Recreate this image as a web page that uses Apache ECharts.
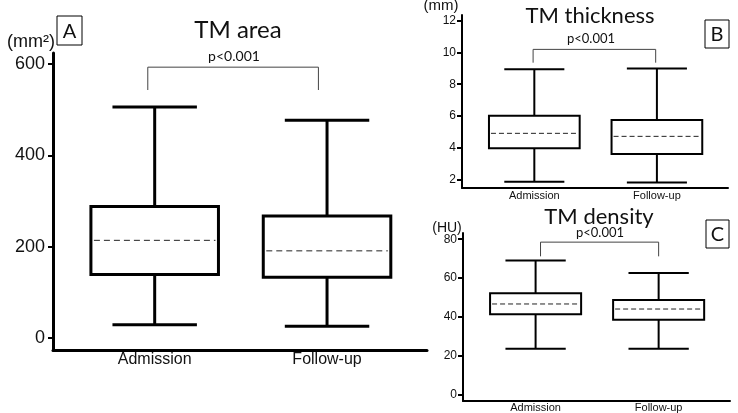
<!DOCTYPE html>
<html>
<head>
<meta charset="utf-8">
<script src="https://cdn.jsdelivr.net/npm/echarts@6/dist/echarts.min.js"></script>
<style>
  html, body { margin: 0; padding: 0; background: #fff; }
  #main { width: 738px; height: 413px; }
</style>
</head>
<body>
<div id="main"></div>
<script>
// categories on the x axis of every panel
const categories = ['Admission', 'Follow-up'];

// box values: [min, q1, median, q3, max] per category
const areaBoxes = [[29, 139, 214, 288, 506], [26, 133, 191, 267, 477]];
const thicknessBoxes = [[1.85, 3.96, 4.9, 6.01, 8.94], [1.79, 3.6, 4.71, 5.74, 9.0]];
const densityBoxes = [[23.7, 41.4, 46.7, 52.2, 69], [23.7, 38.6, 44.1, 48.7, 62.6]];

// y tick labels
const areaTicks = [0, 200, 400, 600];
const thicknessTicks = [2, 4, 6, 8, 10, 12];
const densityTicks = [0, 20, 40, 60, 80];

// significance brackets: [x, y] points in data units
const areaBracket = [[0.96, 543], [0.96, 593], [1.95, 593], [1.95, 543]];
const thicknessBracket = [[0.99, 9.36], [0.99, 10.2], [1.99, 10.2], [1.99, 9.36]];
const densityBracket = [[1.04, 71.2], [1.04, 78.5], [2.0, 78.5], [2.0, 71.2]];

const BOX_W = 0.74;
const CAP_W = 0.49;
const LABEL_FONT = 'Liberation Sans';
const TITLE_FONT = 'Lato';

function makeRender(lw, dash) {
  return function (params, api) {
    const x = api.value(0);
    const pt = i => api.coord([x, api.value(i)]);
    const halfBox = api.size([BOX_W, 0])[0] / 2;
    const halfCap = api.size([CAP_W, 0])[0] / 2;
    const [cx, yMin] = pt(1);
    const yQ1 = pt(2)[1], yMed = pt(3)[1], yQ3 = pt(4)[1], yMax = pt(5)[1];
    const stroke = { stroke: '#000', lineWidth: lw, fill: null };
    return {
      type: 'group',
      children: [
        { type: 'line', shape: { x1: cx, y1: yMax, x2: cx, y2: yQ3 }, style: stroke },
        { type: 'line', shape: { x1: cx, y1: yQ1, x2: cx, y2: yMin }, style: stroke },
        { type: 'line', shape: { x1: cx - halfCap, y1: yMax, x2: cx + halfCap, y2: yMax }, style: stroke },
        { type: 'line', shape: { x1: cx - halfCap, y1: yMin, x2: cx + halfCap, y2: yMin }, style: stroke },
        { type: 'rect', shape: { x: cx - halfBox, y: yQ3, width: halfBox * 2, height: yQ1 - yQ3 }, style: { stroke: '#000', lineWidth: lw, fill: '#fff' } },
        { type: 'line', shape: { x1: cx - halfBox + lw, y1: yMed, x2: cx + halfBox - lw, y2: yMed }, style: { stroke: '#222', lineWidth: 1, lineDash: dash } }
      ]
    };
  };
}

function boxData(rows) {
  return rows.map((r, i) => [i + 1].concat(r));
}

function xAxisFor(idx, lw, fontSize, margin) {
  return {
    type: 'value',
    gridIndex: idx,
    min: 0.41,
    max: 2.58,
    axisLine: { show: true, onZero: false, lineStyle: { color: '#000', width: lw } },
    axisTick: { show: false },
    splitLine: { show: false },
    axisLabel: {
      customValues: [1, 2],
      formatter: v => categories[Math.round(v) - 1],
      color: '#111',
      fontFamily: LABEL_FONT,
      fontSize: fontSize,
      margin: margin
    }
  };
}

function yAxisFor(idx, min, max, ticks, lw, fontSize, margin) {
  return {
    type: 'value',
    gridIndex: idx,
    min: min,
    max: max,
    axisLine: { show: true, onZero: false, lineStyle: { color: '#000', width: lw } },
    axisTick: { show: true, customValues: ticks, length: 5, lineStyle: { color: '#000', width: 2 } },
    splitLine: { show: false },
    axisLabel: {
      customValues: ticks,
      color: '#111',
      fontFamily: LABEL_FONT,
      fontSize: fontSize,
      margin: margin
    }
  };
}

function bracketSeries(idx, points) {
  return {
    type: 'line',
    xAxisIndex: idx,
    yAxisIndex: idx,
    data: points,
    symbol: 'none',
    silent: true,
    lineStyle: { color: '#444', width: 1 }
  };
}

function label(text, x, y, size, font) {
  return {
    type: 'text',
    x: x,
    y: y,
    style: {
      text: text,
      fill: '#111',
      font: size + 'px "' + (font || TITLE_FONT) + '"',
      align: 'center',
      verticalAlign: 'middle'
    }
  };
}

function letterBox(text, x, y, w, h, size) {
  return {
    type: 'group',
    children: [
      { type: 'rect', shape: { x: x, y: y, width: w, height: h }, style: { fill: '#fff', stroke: '#000', lineWidth: 1 } },
      label(text, x + w / 2, y + h / 2 + 1, size)
    ]
  };
}

const chart = echarts.init(document.getElementById('main'), null, { renderer: 'canvas' });

const option = {
  backgroundColor: '#fff',
  animation: false,
  grid: [
    { left: 53, top: 53, width: 374, height: 297 },
    { left: 462, top: 15, width: 266, height: 173 },
    { left: 463, top: 233, width: 267, height: 171 }
  ],
  xAxis: [
    xAxisFor(0, 3, 16, 2),
    xAxisFor(1, 2, 11, 2),
    xAxisFor(2, 2, 11, 1)
  ],
  yAxis: [
    yAxisFor(0, -26, 624, areaTicks, 3, 18, 8),
    yAxisFor(1, 1.45, 12.37, thicknessTicks, 2, 12, 6),
    yAxisFor(2, -3.2, 83.2, densityTicks, 2, 12, 6)
  ],
  series: [
    {
      type: 'custom', xAxisIndex: 0, yAxisIndex: 0,
      renderItem: makeRender(3, [6, 4]),
      encode: { x: 0, y: [1, 2, 3, 4, 5] },
      data: boxData(areaBoxes)
    },
    {
      type: 'custom', xAxisIndex: 1, yAxisIndex: 1,
      renderItem: makeRender(2, [5, 3]),
      encode: { x: 0, y: [1, 2, 3, 4, 5] },
      data: boxData(thicknessBoxes)
    },
    {
      type: 'custom', xAxisIndex: 2, yAxisIndex: 2,
      renderItem: makeRender(2, [5, 3]),
      encode: { x: 0, y: [1, 2, 3, 4, 5] },
      data: boxData(densityBoxes)
    },
    bracketSeries(0, areaBracket),
    bracketSeries(1, thicknessBracket),
    bracketSeries(2, densityBracket)
  ],
  graphic: [
    label('TM area', 238, 30, 24),
    label('p<0.001', 234, 56, 14),
    letterBox('A', 57, 16, 25, 29, 20),
    label('(mm²)', 31, 42, 18, LABEL_FONT),

    label('TM thickness', 590, 16, 22),
    label('p<0.001', 591, 39, 13),
    letterBox('B', 705, 20, 24, 28, 20),
    label('(mm)', 441, 6, 15, LABEL_FONT),

    label('TM density', 599, 217, 22),
    label('p<0.001', 600, 233, 13),
    letterBox('C', 706, 220, 23, 28, 20),
    label('(HU)', 447, 228, 14, LABEL_FONT)
  ]
};

chart.setOption(option);
</script>
</body>
</html>
